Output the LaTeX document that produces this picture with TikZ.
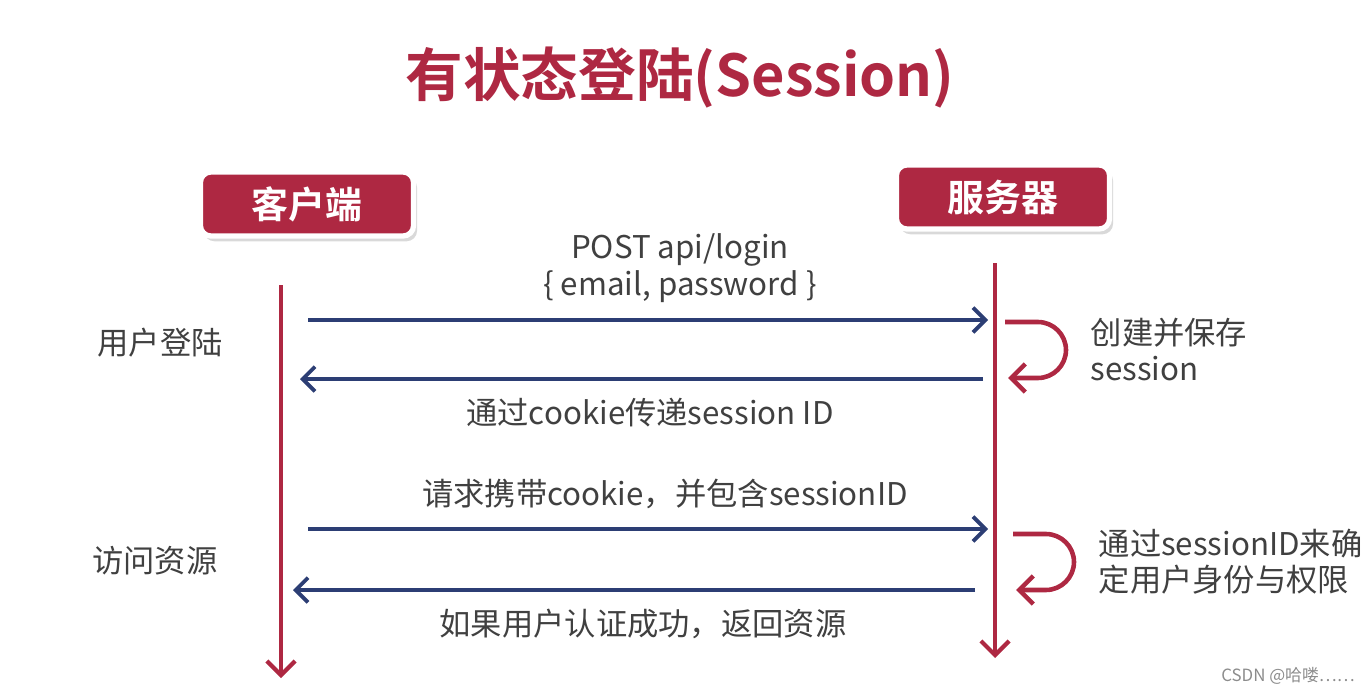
\documentclass[tikz,border=0pt]{standalone}
\usepackage{fontspec}
\setmainfont{Noto Sans CJK SC}[BoldFont={Noto Sans CJK SC Bold}]
\usepackage{tikz}
\usetikzlibrary{arrows.meta,shadows}

\definecolor{crimson}{HTML}{AE2842}
\definecolor{navy}{HTML}{2C3E74}

\begin{document}
\begin{tikzpicture}[x=0.01cm,y=-0.01cm,
        life/.style={crimson,line width=1.2pt,-{Straight Barb[length=4pt,width=8pt,line width=1.2pt]}},
        msg/.style={navy,line width=1.1pt,-{Straight Barb[length=3.5pt,width=7pt,line width=1.1pt]}},
        self/.style={crimson,line width=1.3pt,rounded corners=8pt,-{Straight Barb[length=4pt,width=8pt,line width=1.3pt]}},
        actor/.style={fill=crimson,draw=white,line width=1.5pt,rounded corners=3pt,drop shadow={opacity=0.3,shadow xshift=1pt,shadow yshift=-1.5pt},
            minimum width=2.13cm,minimum height=0.64cm,text=white,font=\fontsize{10.5}{12}\selectfont\bfseries},
        txt/.style={text=black!75,font=\fontsize{8.9}{11}\selectfont,inner sep=0pt}]

    \useasboundingbox (0,0) rectangle (1369,694);

    \node[text=crimson,font=\fontsize{16.4}{20}\selectfont\bfseries] (title) at (680,78) {有状态登陆(Session)};

    \node[actor] (client) at (307,204) {客户端};
    \node[actor] (server) at (1003,197) {服务器};

    % lifelines
    \coordinate (ctop) at (281,285);
    \coordinate (cbot) at (281,678);
    \coordinate (stop) at (995,263);
    \coordinate (sbot) at (995,658);
    \draw[life] (ctop) -- (cbot);
    \draw[life] (stop) -- (sbot);

    % message ends
    \coordinate (m1a) at (308,320);  \coordinate (m1b) at (988,320);
    \coordinate (m2a) at (983,379);  \coordinate (m2b) at (300,379);
    \coordinate (m3a) at (308,529);  \coordinate (m3b) at (988,529);
    \coordinate (m4a) at (975,590);  \coordinate (m4b) at (293,590);

    \draw[msg] (m1a) -- (m1b);
    \draw[msg] (m2a) -- (m2b);
    \draw[msg] (m3a) -- (m3b);
    \draw[msg] (m4a) -- (m4b);

    \node[txt] (l1a) at (680,250) {POST api/login};
    \node[txt] (l1b) at (680,287) {\{ email, password \}};
    \node[txt] (l2) at (650,413) {通过cookie传递session ID};
    \node[txt] (l3) at (665,494) {请求携带cookie，并包含sessionID};
    \node[txt] (l4) at (643,624) {如果用户认证成功，返回资源};

    % self loops
    \coordinate (s1a) at (1005,322);  \coordinate (s1b) at (1008,378);
    \coordinate (s2a) at (1013,534);  \coordinate (s2b) at (1016,590);
    \draw[self] (s1a) -- (1066,322) -- (1066,378) -- (s1b);
    \draw[self] (s2a) -- (1074,534) -- (1074,590) -- (s2b);

    \node[txt,anchor=west] (n1a) at (1090,333) {创建并保存};
    \node[txt,anchor=west] (n1b) at (1090,369) {session};
    \node[txt,anchor=west] (n2a) at (1098,544) {通过sessionID来确};
    \node[txt,anchor=west] (n2b) at (1098,580) {定用户身份与权限};

    \node[txt] (phase1) at (160,343) {用户登陆};
    \node[txt] (phase2) at (155,561) {访问资源};

    \node[text=black!45,font=\fontsize{4.8}{6}\selectfont,inner sep=0pt] (mark) at (1288,676) {CSDN @哈喽……};

\end{tikzpicture}
\end{document}
